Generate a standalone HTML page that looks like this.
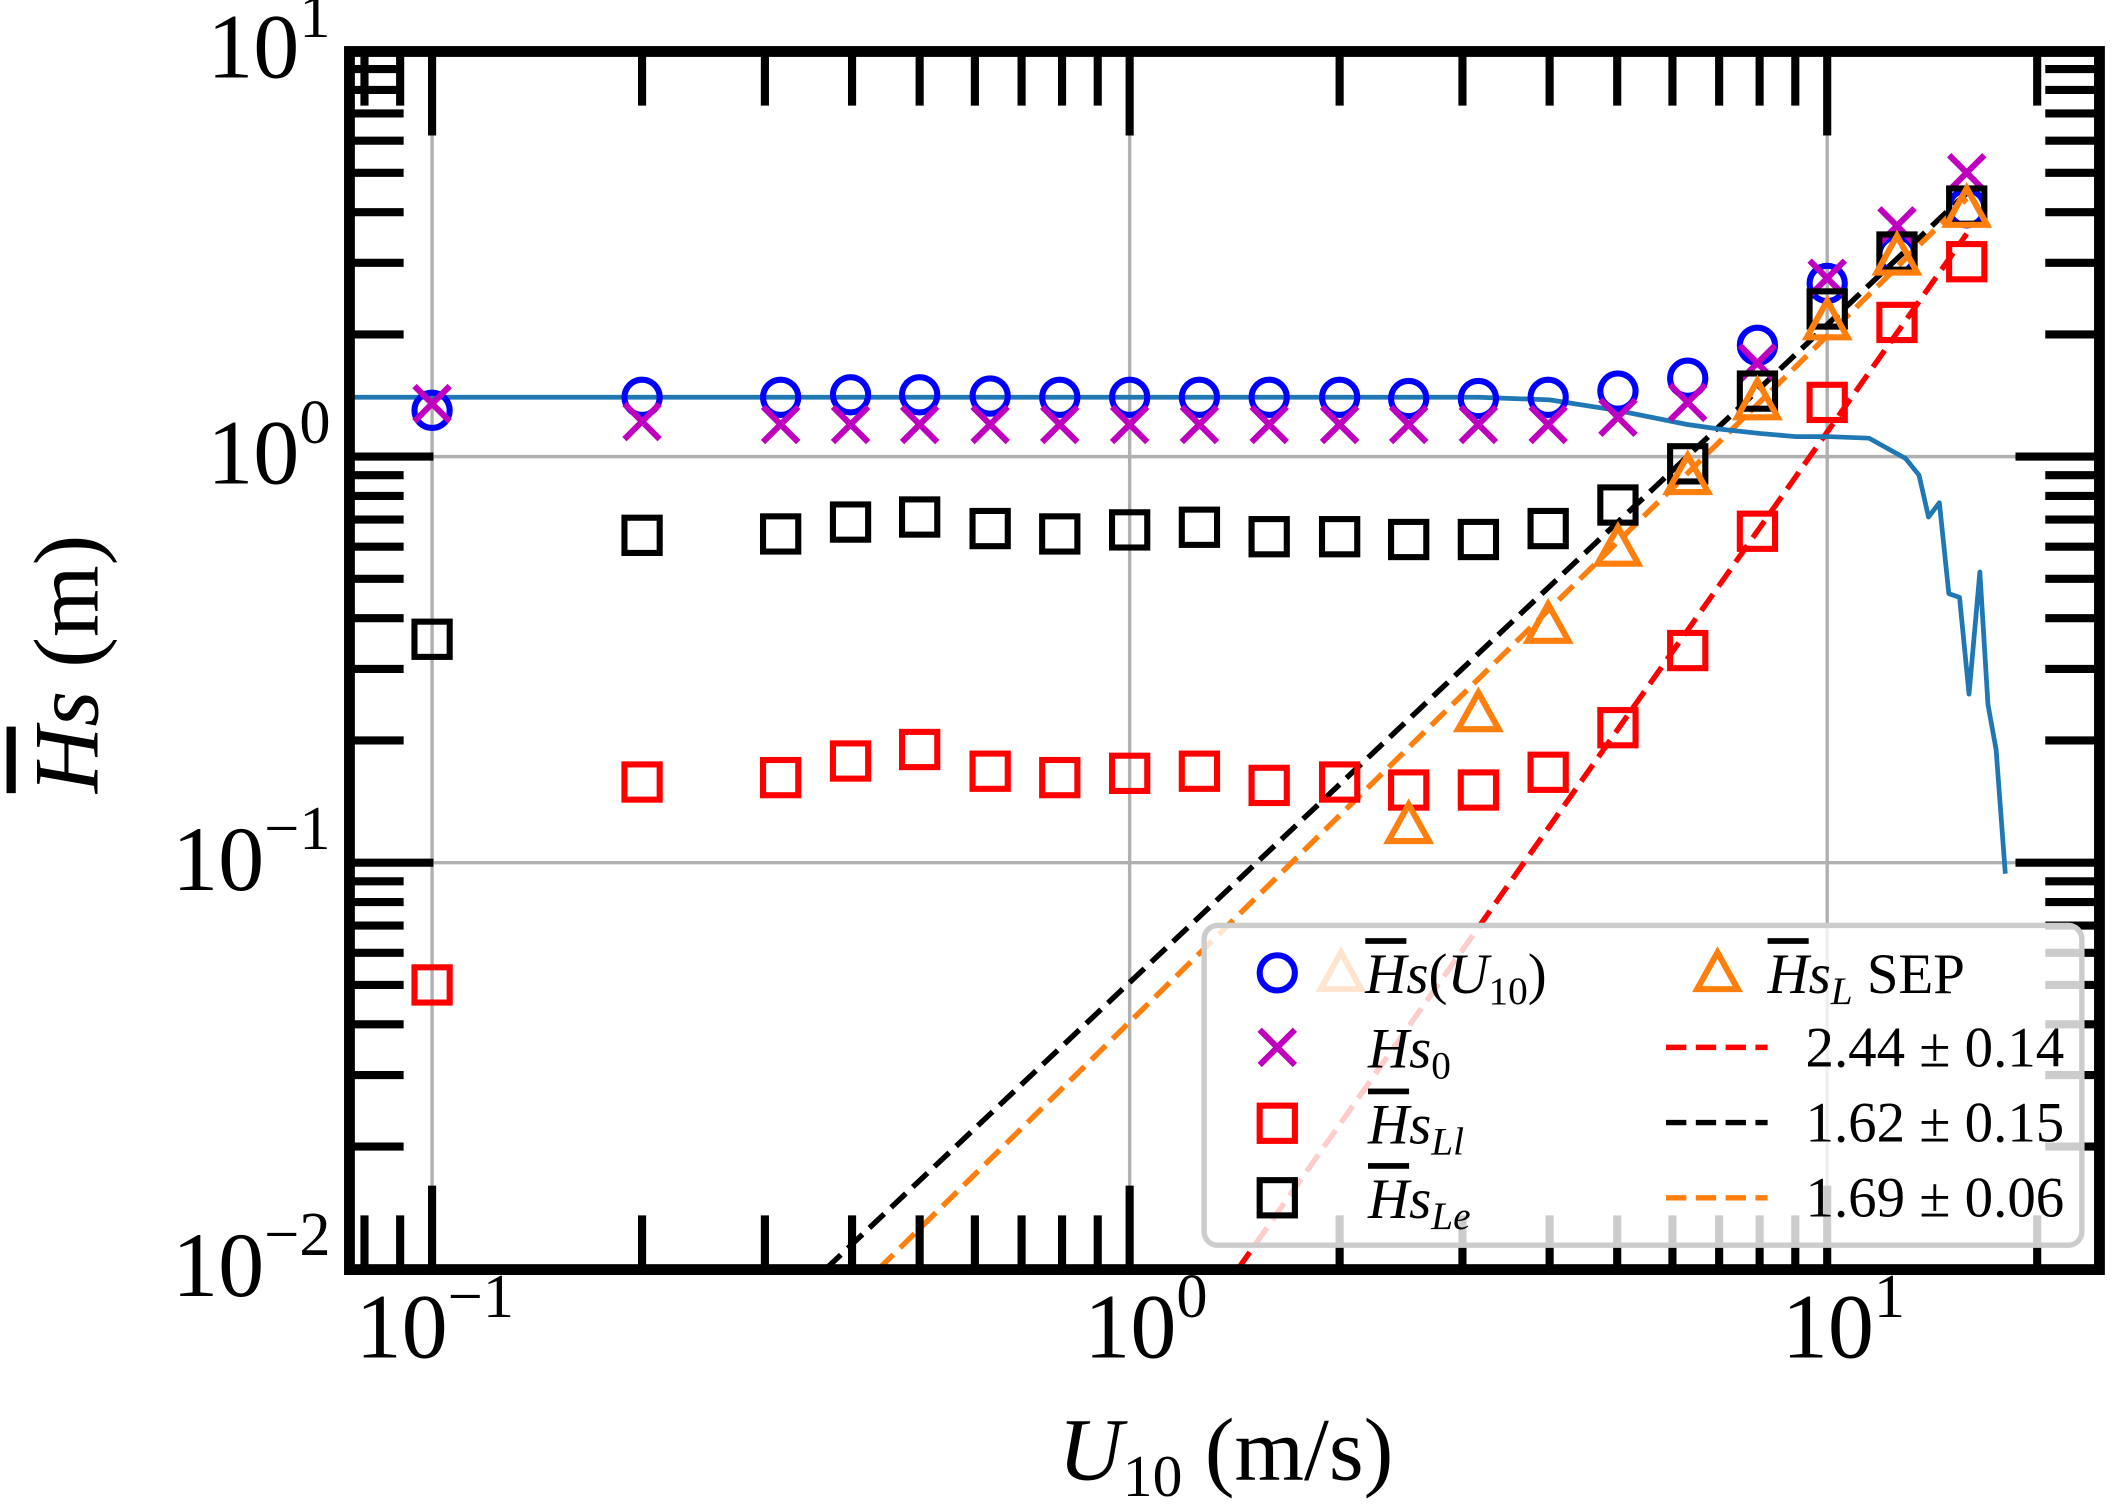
<!DOCTYPE html>
<html><head><meta charset="utf-8"><style>
html,body{margin:0;padding:0;background:#fff}
svg{display:block}
text{font-family:"Liberation Serif","DejaVu Serif",serif;fill:#000}
</style></head><body>
<svg id="chart" width="2113" height="1504" viewBox="0 0 1560 1110" preserveAspectRatio="none" xmlns="http://www.w3.org/2000/svg">
<g id="grid"></g>
<g id="curves"></g>
<g id="marks"></g>
<g id="frame"></g>
<g id="ticks"></g>
<g id="labels"></g>
<g><text x="905" y="1092" font-size="66" text-anchor="middle"><tspan font-style="italic">U</tspan><tspan font-size="44" dy="12">10</tspan><tspan dy="-12"> (m/s)</tspan></text></g>
<g transform="translate(72,490) rotate(-90)"><text x="0" y="0" font-size="68" text-anchor="middle"><tspan font-style="italic" text-decoration="overline">H</tspan><tspan font-style="italic">s</tspan> (m)</text></g>
<g id="legend">
<rect x="889" y="683" width="648" height="236" rx="10" fill="rgba(255,255,255,0.8)" stroke="#cccccc" stroke-width="4"/>
</g>
</svg>
<script>
const xVals=[0.1,0.2,0.316,0.398,0.5,0.631,0.794,1,1.259,1.585,2,2.512,3.162,3.981,5.012,6.31,7.943,10,12.59,15.85];
const hsMean=[1.30,1.40,1.40,1.42,1.42,1.41,1.40,1.40,1.40,1.40,1.40,1.39,1.39,1.40,1.45,1.56,1.88,2.67,3.14,4.1];
const hs0=[1.35,1.22,1.20,1.20,1.20,1.20,1.20,1.20,1.20,1.20,1.20,1.20,1.20,1.20,1.25,1.36,1.7,2.75,3.7,5.0];
const hsLe=[0.355,0.64,0.645,0.69,0.71,0.665,0.645,0.66,0.67,0.635,0.635,0.625,0.625,0.665,0.76,0.96,1.45,2.31,3.19,4.14];
const hsLl=[0.050,0.158,0.162,0.178,0.19,0.168,0.162,0.166,0.168,0.155,0.158,0.151,0.151,0.167,0.215,0.333,0.655,1.36,2.14,3.02];
const sepX=[2.512,3.162,3.981,5.012,6.31,7.943,10,12.59,15.85];
const sepY=[0.123,0.232,0.383,0.593,0.89,1.36,2.14,3.09,4.05];
const curveX=[0.076,1,2,3.16,4,5,6.3,7,8,9,10,11.48,12.95,13.54,13.97,14.48,14.94,15.48,15.97,16.55,17.0,17.46,18.0];
const curveY=[1.40,1.40,1.40,1.40,1.38,1.30,1.20,1.17,1.14,1.12,1.12,1.11,0.99,0.90,0.71,0.77,0.46,0.45,0.26,0.52,0.245,0.19,0.094];
const fitSlopes=[2.44,1.62,1.69];
const fitRefX=[10,6.3,0.437];
const fitRefY=[1.15,1.0,0.01];
const fitLabels=["2.44 ± 0.14","1.62 ± 0.15","1.69 ± 0.06"];
const fitColors=["#ff0000","#000000","#ff7f0e"];
const fitNames=["fit-line-ll","fit-line-le","fit-line-sep"];
const xTickLabels=["-1","0","1"];
const yTickLabels=["1","0","-1","-2"];

const NS="http://www.w3.org/2000/svg";
const L=258,R=1550,T=38,B=937;
const X=v=>319+(Math.log10(v)+1)*515;
const Y=v=>337-Math.log10(v)*299.7;
function mk(tag,attrs,parent){const e=document.createElementNS(NS,tag);for(const k in attrs)e.setAttribute(k,attrs[k]);parent.appendChild(e);return e;}
const g=id=>document.getElementById(id);

const defs=mk('defs',{},g('chart'));const cp=mk('clipPath',{id:'c'},defs);mk('rect',{x:L,y:T,width:R-L,height:B-T},cp);
g('curves').setAttribute('clip-path','url(#c)');g('marks').setAttribute('clip-path','url(#c)');

[-1,0,1].forEach(d=>{const x=X(Math.pow(10,d));const e=mk('line',{x1:x,x2:x,y1:T,y2:B,stroke:'#b0b0b0','stroke-width':2.5},g('grid'));

});
[0,-1].forEach(d=>{const y=Y(Math.pow(10,d));const e=mk('line',{x1:L,x2:R,y1:y,y2:y,stroke:'#b0b0b0','stroke-width':2.5},g('grid'));

});

fitSlopes.forEach((s,i)=>{
  const f=x=>fitRefY[i]*Math.pow(x/fitRefX[i],s);
  const x0=fitRefX[i]*Math.pow(0.01/fitRefY[i],1/s),x1=15.85;
  const e=mk('line',{x1:X(x0),y1:Y(f(x0)),x2:X(x1),y2:Y(f(x1)),stroke:fitColors[i],'stroke-width':4,'stroke-dasharray':'15 7'},g('curves'));
  
  
});
{const d=curveX.map((x,i)=>(i?'L':'M')+X(x).toFixed(1)+' '+Y(curveY[i]).toFixed(1)).join(' ');
const e=mk('path',{d:d,fill:'none',stroke:'#1f77b4','stroke-width':3.5,'stroke-linejoin':'round'},g('curves'));

}

function circle(x,y,p,name){const e=mk('circle',{cx:x,cy:y,r:13,fill:'none',stroke:'#0000ff','stroke-width':4.5},p);}
function cross(x,y,p,name){const s=13;const e=mk('path',{d:`M${x-s} ${y-s}L${x+s} ${y+s}M${x-s} ${y+s}L${x+s} ${y-s}`,stroke:'#bf00bf','stroke-width':4.5},p);}
function square(x,y,c,p,name){const e=mk('rect',{x:x-13,y:y-13,width:26,height:26,fill:'none',stroke:c,'stroke-width':4.5},p);}
function tri(x,y,c,p,name){const e=mk('path',{d:`M${x} ${y-16}L${x+15} ${y+11}L${x-15} ${y+11}Z`,fill:'none',stroke:c,'stroke-width':4.5},p);}

xVals.forEach((x,i)=>{
  circle(X(x),Y(hsMean[i]),g('marks'),'hs-mean-point');
  cross(X(x),Y(hs0[i]),g('marks'),'hs0-point');
  square(X(x),Y(hsLl[i]),'#ff0000',g('marks'),'hs-ll-point');
  square(X(x),Y(hsLe[i]),'#000000',g('marks'),'hs-le-point');
});
sepX.forEach((x,i)=>tri(X(x),Y(sepY[i]),'#ff7f0e',g('marks'),'hs-sep-point'));

{const e=mk('rect',{x:L,y:T,width:R-L,height:B-T,fill:'none',stroke:'#000','stroke-width':8},g('frame'));

}
function tk(x1,y1,x2,y2,name){const e=mk('line',{x1,y1,x2,y2,stroke:'#000','stroke-width':6},g('ticks'));}
for(let d=-2;d<=1;d++)for(let m=1;m<=9;m++){const v=m*Math.pow(10,d);const x=X(v);if(x<L+2||x>R-2)continue;
  const len=m===1?62:40;tk(x,B,x,B-len,m===1?'x-major-tick':'x-minor-tick');tk(x,T,x,T+len,m===1?'x-major-tick-top':'x-minor-tick-top');}
for(let d=-2;d<=1;d++)for(let m=1;m<=9;m++){const v=m*Math.pow(10,d);const y=Y(v);if(y<T-1||y>B+1)continue;
  const len=m===1?62:40;tk(L,y,L+len,y,m===1?'y-major-tick':'y-minor-tick');tk(R,y,R-len,y,m===1?'y-major-tick-right':'y-minor-tick-right');}
xTickLabels.forEach(s=>{const x=X(Math.pow(10,+s));const t=mk('text',{x:x+(s[0]==='-'?2:12),y:1002,'font-size':68,'text-anchor':'middle'},g('labels'));


t.innerHTML='10<tspan font-size="46" dy="-30">'+s.replace('-','−')+'</tspan>';});
yTickLabels.forEach(s=>{const y=Y(Math.pow(10,+s));const t=mk('text',{x:244,y:y+20,'font-size':68,'text-anchor':'end'},g('labels'));


t.innerHTML='10<tspan font-size="46" dy="-30">'+s.replace('-','−')+'</tspan>';});

const lg=g('legend');
function ltext(x,y,html,name){const t=mk('text',{x,y,'font-size':42},lg);t.innerHTML=html;}
circle(943,718,lg,'legend-marker-hs-mean');
tri(990,719,'rgba(255,127,14,0.2)',lg,'legend-marker-faded');
cross(943,773,lg,'legend-marker-hs0');
square(943,829,'#ff0000',lg,'legend-marker-hs-ll');
square(943,884,'#000000',lg,'legend-marker-hs-le');
ltext(1008,733,'<tspan font-style="italic" text-decoration="overline">H</tspan><tspan font-style="italic">s</tspan>(<tspan font-style="italic">U</tspan><tspan font-size="29" dy="8">10</tspan><tspan dy="-8">)</tspan>','legend-label-hs-mean');
ltext(1010,788,'<tspan font-style="italic">Hs</tspan><tspan font-size="29" dy="8">0</tspan>','legend-label-hs0');
ltext(1010,844,'<tspan font-style="italic" text-decoration="overline">H</tspan><tspan font-style="italic">s</tspan><tspan font-size="29" font-style="italic" dy="8">Ll</tspan>','legend-label-hs-ll');
ltext(1010,899,'<tspan font-style="italic" text-decoration="overline">H</tspan><tspan font-style="italic">s</tspan><tspan font-size="29" font-style="italic" dy="8">Le</tspan>','legend-label-hs-le');
tri(1268,719,'#ff7f0e',lg,'legend-marker-sep');
ltext(1305,733,'<tspan font-style="italic" text-decoration="overline">H</tspan><tspan font-style="italic">s</tspan><tspan font-size="29" font-style="italic" dy="8">L</tspan><tspan dy="-8"> SEP</tspan>','legend-label-sep');
fitLabels.forEach((s,i)=>{const y=773+i*55.5;
  const e=mk('line',{x1:1230,x2:1305,y1:y,y2:y,stroke:fitColors[i],'stroke-width':4,'stroke-dasharray':'15 7'},lg);
  
  
  ltext(1333,y+14,s,'legend-label-'+fitNames[i]);});
</script>
</body></html>
